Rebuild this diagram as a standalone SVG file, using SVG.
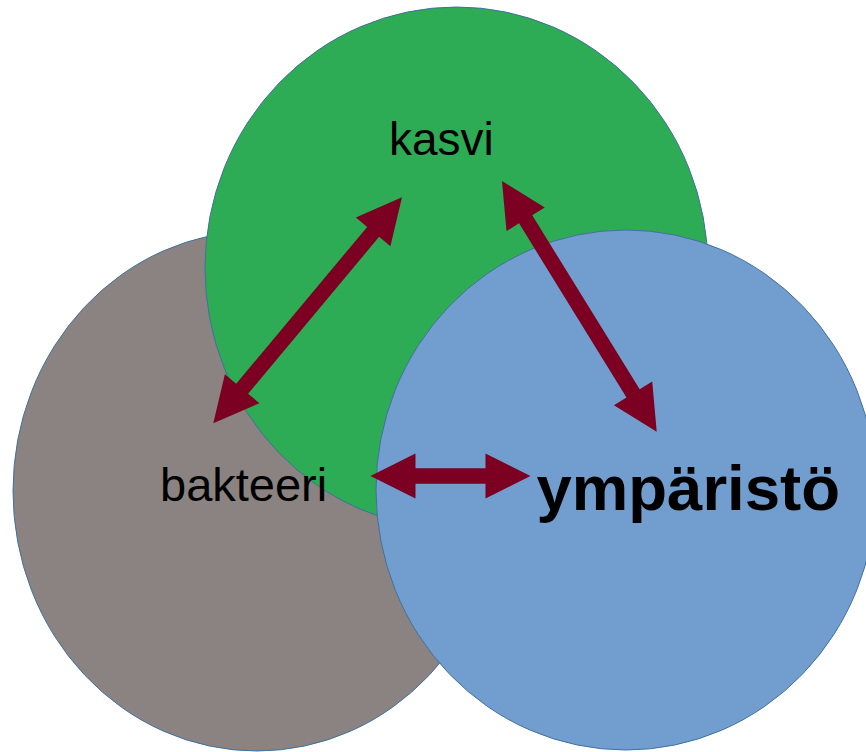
<svg xmlns="http://www.w3.org/2000/svg" width="866" height="752" viewBox="0 0 866 752">
  <style>
    .circle { stroke: #41719C; stroke-width: 1; }
    .arrow { fill: #7B0022; stroke: none; }
    .label { font-family: "Liberation Sans", Arial, sans-serif; fill: #000000; }
  </style>
  <rect x="0" y="0" width="866" height="752" fill="#FFFFFF"/>
  <g id="node-bakteeri">
    <ellipse class="circle" cx="257" cy="491" rx="244" ry="260" fill="#8B8382"/>
  </g>
  <g id="node-kasvi">
    <ellipse class="circle" cx="456.5" cy="268" rx="251.5" ry="261" fill="#2EAB55"/>
  </g>
  <g id="node-ymparisto">
    <ellipse class="circle" cx="626" cy="490" rx="250" ry="260" fill="#719ECE"/>
  </g>
  <g id="connectors">
    <polygon class="arrow" transform="translate(213.3,423.3) rotate(-50.14)" points="0,0 45,-22.5 45,-7.75 249.4,-7.75 249.4,-22.5 294.4,0 249.4,22.5 249.4,7.75 45,7.75 45,22.5"/>
    <polygon class="arrow" transform="translate(502,181) rotate(58.32)" points="0,0 45,-22.5 45,-7.75 249.6,-7.75 249.6,-22.5 294.6,0 249.6,22.5 249.6,7.75 45,7.75 45,22.5"/>
    <polygon class="arrow" transform="translate(370.5,476)" points="0,0 45,-22.5 45,-7.75 115,-7.75 115,-22.5 160,0 115,22.5 115,7.75 45,7.75 45,22.5"/>
  </g>
  <g id="labels">
    <text id="label-kasvi" class="label" x="389" y="155" font-size="46">kasvi</text>
    <text id="label-bakteeri" class="label" x="160" y="501" font-size="47">bakteeri</text>
    <text id="label-ymparisto" class="label" x="536.5" y="510" font-size="63.5" font-weight="bold">ympäristö</text>
  </g>
</svg>
